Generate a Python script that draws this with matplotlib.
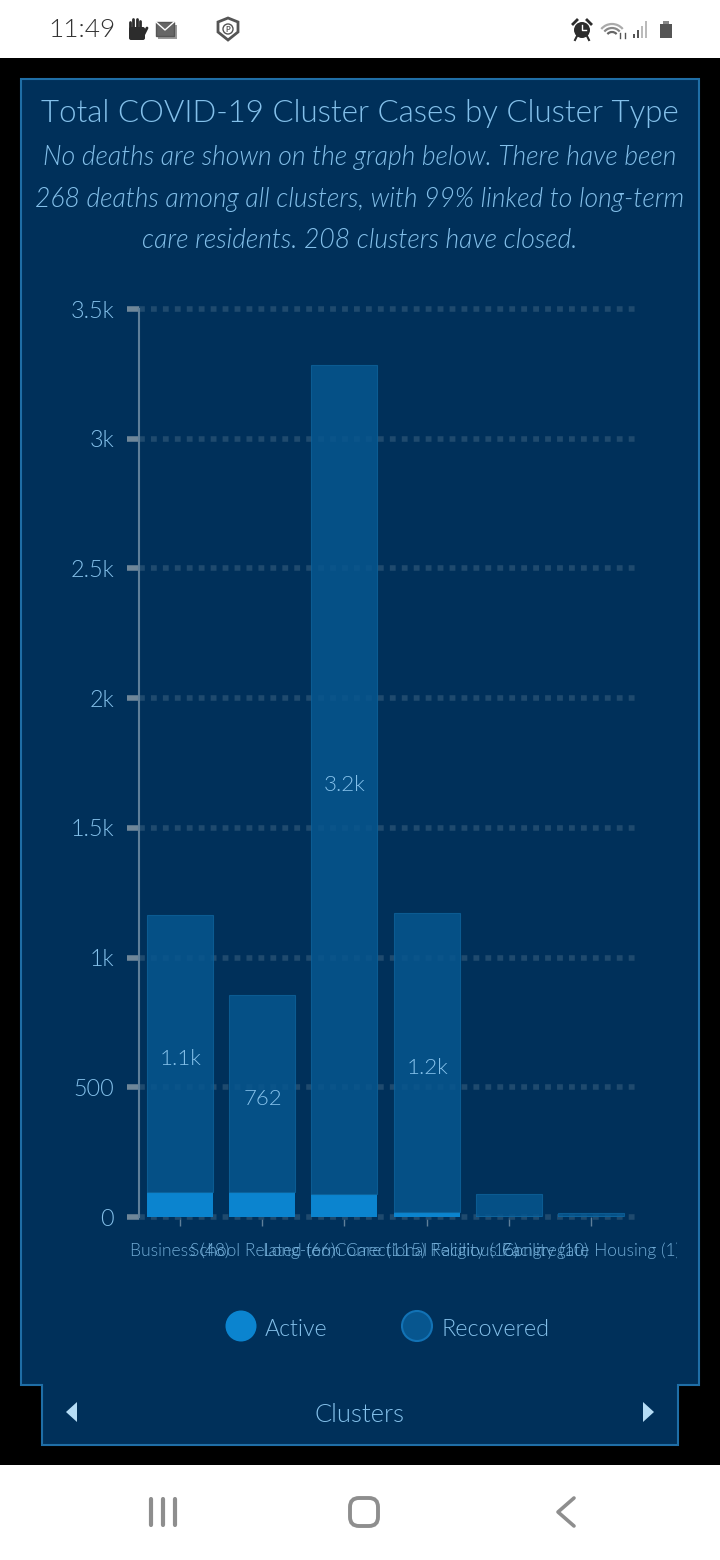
import os
import matplotlib
matplotlib.use("Agg")
import matplotlib.pyplot as plt
from matplotlib import font_manager as fm
from matplotlib.patches import Polygon, Circle, Rectangle, FancyBboxPatch, Arc
from matplotlib.ticker import FixedLocator, FixedFormatter
from matplotlib.transforms import Bbox

plt.rcParams['font.family'] = ['Lato', 'DejaVu Sans']

categories = ["Business (48)", "School Related (66)", "Long-term Care (115)",
              "Correctional Facility (16)", "Religious Facility (10)", "Congregate Housing (1)"]
active = [95, 95, 88, 18, 2, 2]
recovered = [1069, 762, 3197, 1155, 86, 14]
bar_labels = ["1.1k", "762", "3.2k", "1.2k", "", ""]
y_ticks = [0, 500, 1000, 1500, 2000, 2500, 3000, 3500]
y_labels = ["0", "500", "1k", "1.5k", "2k", "2.5k", "3k", "3.5k"]
title = "Total COVID-19 Cluster Cases by Cluster Type"
subtitle = ["No deaths are shown on the graph below. There have been",
            "268 deaths among all clusters, with 99% linked to long-term",
            "care residents. 208 clusters have closed."]

W, H = 720, 1560
TXT = "#84c0ea"
PANEL = "#00305a"
EDGE = "#1f6ea6"
ACT = "#0b84cf"
REC = "#07568f"
GRID = "#1f4a6e"
NAV = "#8e8e8e"


def fp(size, italic=False):
    """Lato Light when its file is installed, plain Lato otherwise."""
    want = "lato-lightitalic.ttf" if italic else "lato-light.ttf"
    for f in fm.fontManager.ttflist:
        if os.path.basename(f.fname).lower() == want:
            return fm.FontProperties(fname=f.fname, size=size)
    return fm.FontProperties(family="Lato", size=size, style="italic" if italic else "normal")


fig = plt.figure(figsize=(W/100, H/100), dpi=100, facecolor="white")
bg = fig.add_axes([0, 0, 1, 1])
bg.set_xlim(0, W); bg.set_ylim(H, 0); bg.axis("off")
bg.add_patch(Rectangle((0, 58), W, 1407, fc="black", ec="none"))
bg.add_patch(Polygon([(21, 79), (699, 79), (699, 1385), (678, 1385), (678, 1445),
                      (42, 1445), (42, 1385), (21, 1385)], closed=True,
                     fc=PANEL, ec=EDGE, lw=1.5))

# status bar
bg.text(48, 30, "11:49", fontproperties=fp(18.8), color="#333333", va="center", ha="left")
bg.add_patch(FancyBboxPatch((131, 29), 12, 9, boxstyle="round,pad=2", fc="#2c2c2c", ec="none"))
for xf, top, hh in [(129.5, 22, 10), (133, 19, 12), (136.5, 19, 12), (140, 21, 10)]:
    bg.plot([xf, xf], [top, top + hh], color="#2c2c2c", lw=2, solid_capstyle="round")
bg.plot([144, 147], [34, 28], color="#2c2c2c", lw=2, solid_capstyle="round")
bg.add_patch(Rectangle((158, 25), 19, 14, fc="#9a9a9a", ec="none"))
bg.add_patch(Rectangle((156, 22), 18, 14, fc="#666666", ec="#555555", lw=1))
bg.plot([156, 165, 174], [22, 30, 22], color="white", lw=1)
bg.add_patch(Polygon([(218, 22), (228, 18), (238, 22), (238, 32), (228, 40), (218, 32)],
                     closed=True, fc="white", ec="#555555", lw=2))
bg.add_patch(Circle((228, 29), 5, fc="none", ec="#555555", lw=1))
bg.text(228, 29, "P", fontsize=5.5, color="#555555", ha="center", va="center", fontweight="bold")
bg.add_patch(Circle((582, 30), 8, fc="#2c2c2c", ec="none"))
bg.plot([582, 582, 586], [25, 30, 30], color="white", lw=1)
bg.plot([573, 577], [24, 20], color="#2c2c2c", lw=2)
bg.plot([591, 587], [24, 20], color="#2c2c2c", lw=2)
bg.plot([577, 575], [36, 40], color="#2c2c2c", lw=1.5)
bg.plot([587, 589], [36, 40], color="#2c2c2c", lw=1.5)
for r, c in [(28, "#aaaaaa"), (20, "#888888"), (12, "#666666")]:
    bg.add_patch(Arc((612, 38), r, r, theta1=220, theta2=320, ec=c, lw=1.6))
bg.plot([620, 620], [33, 38], color="#555555", lw=1)
bg.plot([625, 625], [33, 38], color="#555555", lw=1)
for i, h in enumerate([4, 8, 12, 17]):
    bg.add_patch(Rectangle((633 + 4*i, 38 - h), 2, h, fc="#bbbbbb" if i > 1 else "#555555", ec="none"))
bg.add_patch(Rectangle((660, 24), 12, 14, fc="#555555", ec="none"))
bg.add_patch(Rectangle((663, 21), 6, 3, fc="#888888", ec="none"))

# navigation bar
for xb in (151, 163, 175):
    bg.plot([xb, xb], [1499, 1525], color=NAV, lw=3, solid_capstyle="round")
bg.add_patch(FancyBboxPatch((350, 1498), 28, 28, boxstyle="round,pad=0,rounding_size=9",
                            fc="none", ec=NAV, lw=2.8))
bg.plot([574, 558, 574], [1498, 1512, 1526], color=NAV, lw=2.6, solid_capstyle="round")

# headings
bg.text(360, 113.5, title, fontproperties=fp(22.5), color=TXT, ha="center", va="center")
for y, line in zip((157, 199, 241), subtitle):
    bg.text(360, y, line, fontproperties=fp(19.1, True), color=TXT, ha="center", va="center")

# chart
x0, x1, ytop, ybot = 139, 635, 309, 1217
ax = fig.add_axes([x0/W, 1 - ybot/H, (x1 - x0)/W, (ybot - ytop)/H])
ax.patch.set_alpha(0)
step = 82.2
first = 180
ax.set_xlim(-(first - x0)/step, (x1 - first)/step)
ax.set_ylim(0, 3500)
xs = list(range(len(categories)))
ax.bar(xs, active, width=0.805, color=ACT, zorder=3)
ax.bar(xs, recovered, bottom=active, width=0.805, color=REC, edgecolor="#0d6199", lw=0.8, zorder=3, alpha=0.85)
for x, a, r, lab in zip(xs, active, recovered, bar_labels):
    if lab:
        ax.annotate(lab, (x, a + r/2), xytext=(0.5, -4), textcoords="offset points",
                    color=TXT, fontproperties=fp(16), ha="center", va="center", zorder=5)

for s in ("top", "right"):
    ax.spines[s].set_visible(False)
ax.spines["left"].set_color("#5f7f99")
ax.spines["left"].set_linewidth(1.5)
ax.spines["bottom"].set_visible(False)
ax.yaxis.set_major_locator(FixedLocator(y_ticks))
ax.yaxis.set_major_formatter(FixedFormatter(y_labels))
ax.tick_params(axis="y", length=9, width=4, color="#6f8799", labelcolor=TXT, pad=9)
for t in ax.get_yticklabels():
    t.set_fontproperties(fp(16.8))
    t.set_va("center_baseline")
ax.grid(axis="y", color=GRID, lw=4, linestyle=(0, (1.05, 1.1)), zorder=1)
ax.set_axisbelow(True)
for t in ax.yaxis.get_gridlines():
    t.set_clip_on(False)
ax.set_xticks(xs)
ax.set_xticklabels(categories)
ax.tick_params(axis="x", length=6.5, width=1, color="#5f7f99", labelcolor=TXT, pad=12)
for t in ax.get_xticklabels():
    t.set_fontproperties(fp(12.5))
    t.set_alpha(0.85)
    t.set_clip_box(Bbox([[0, 0], [677, H]]))
    t.set_clip_on(True)

# legend
bg.add_patch(Circle((241, 1326), 15.5, fc=ACT, ec="none"))
bg.add_patch(Circle((417, 1326), 15, fc=REC, ec="#1272b5", lw=1.5))
bg.text(265, 1330, "Active", fontproperties=fp(16.6), color=TXT, va="center", ha="left")
bg.text(441, 1330, "Recovered", fontproperties=fp(16.8), color=TXT, va="center", ha="left")

# pager
bg.text(360, 1415, "Clusters", fontproperties=fp(18.4), color=TXT, ha="center", va="center")
bg.add_patch(Polygon([(77, 1402), (77, 1422), (66, 1412)], closed=True, fc="#b5dcf5", ec="none"))
bg.add_patch(Polygon([(643, 1402), (643, 1422), (654, 1412)], closed=True, fc="#b5dcf5", ec="none"))

fig.savefig("out.png", dpi=100, facecolor=fig.get_facecolor())
